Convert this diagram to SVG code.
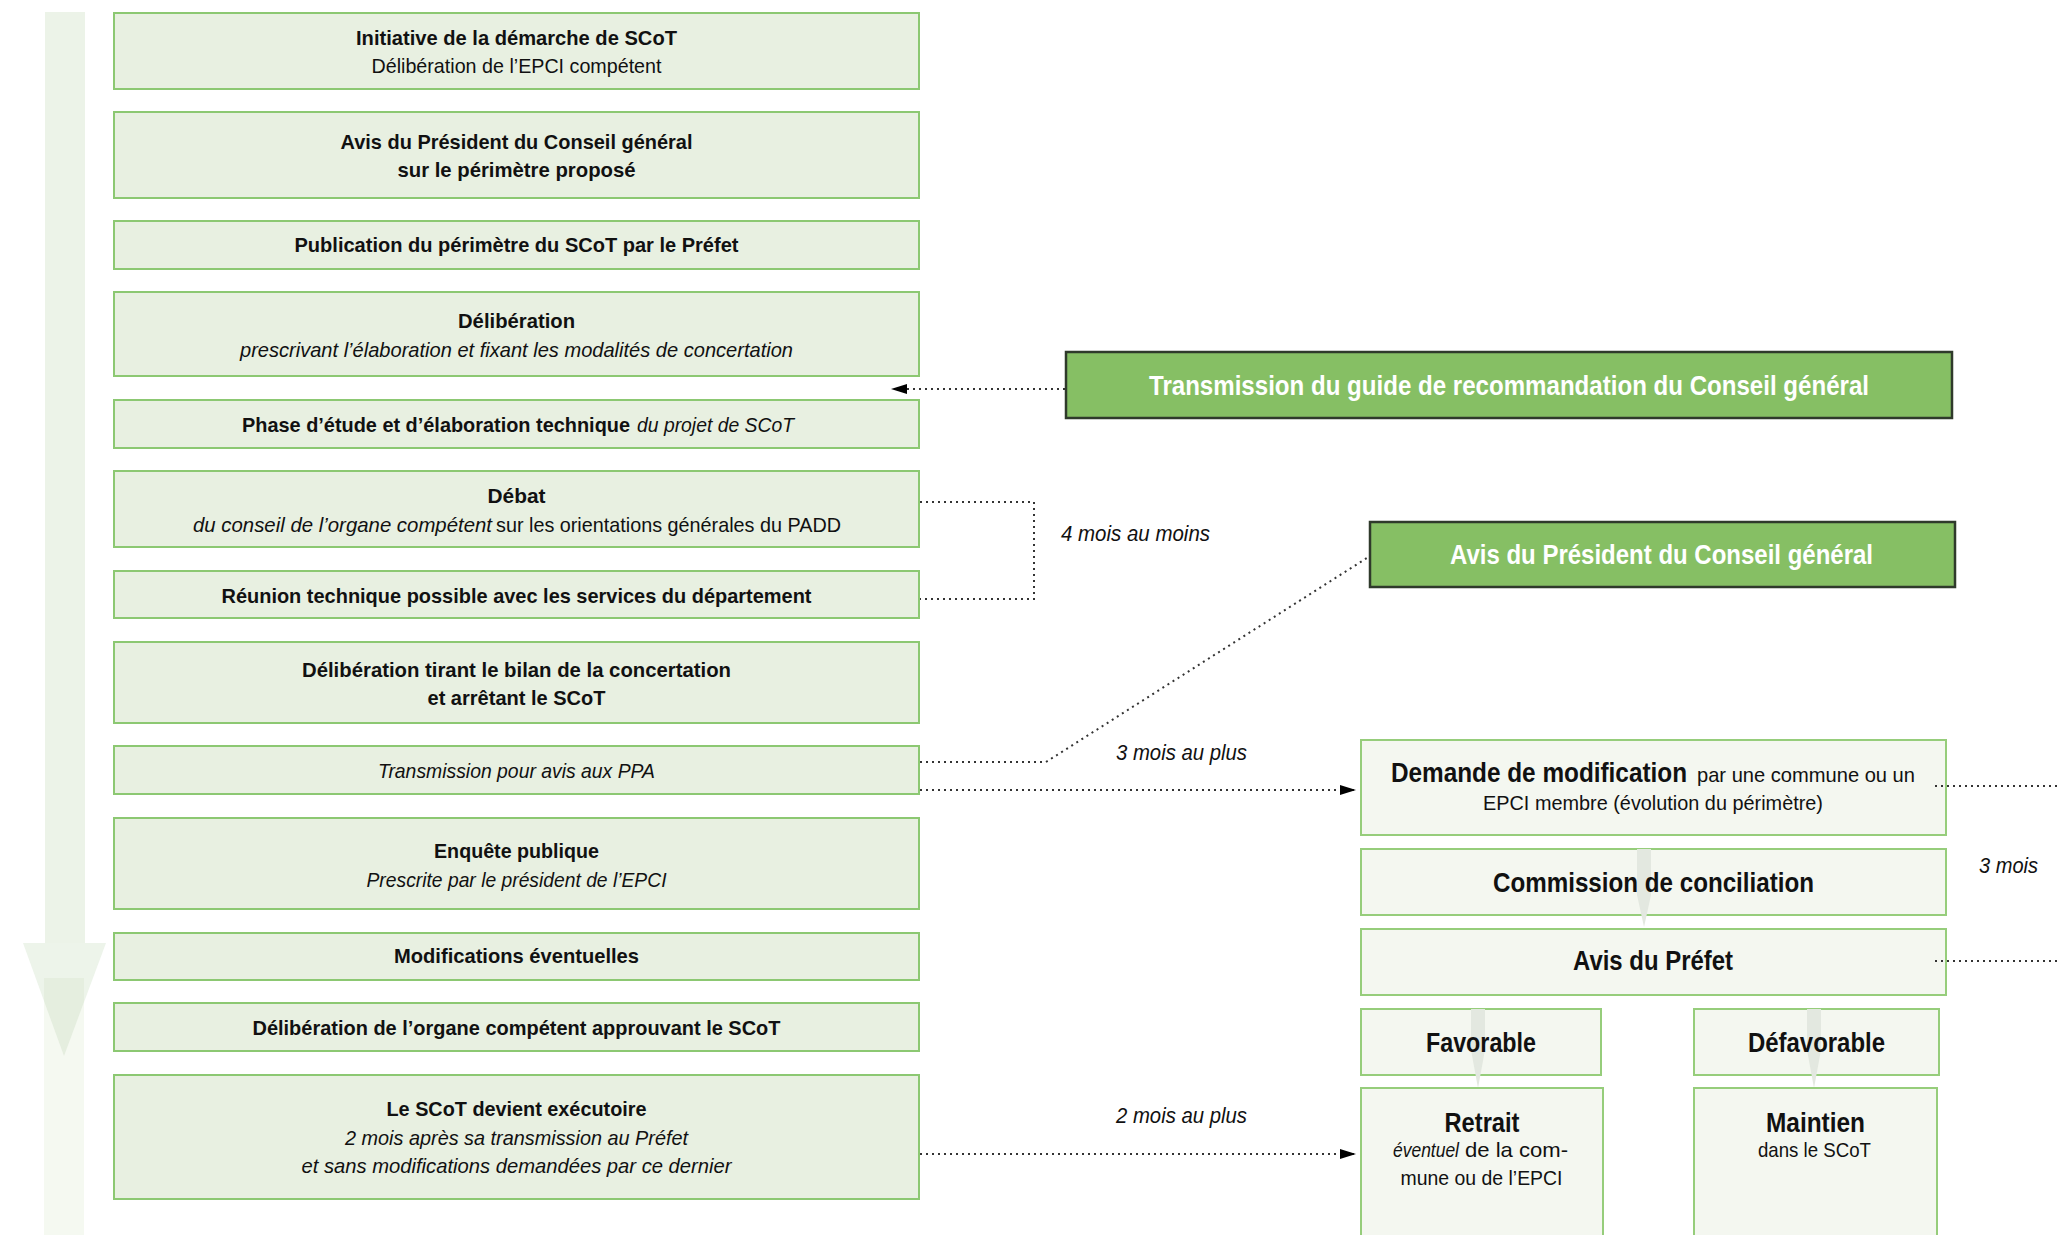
<svg xmlns="http://www.w3.org/2000/svg" width="2058" height="1235" viewBox="0 0 2058 1235">
<defs>
<style>
text{font-family:"Liberation Sans",Arial,sans-serif;fill:#111;text-anchor:middle}
.s{text-anchor:start}
.b{font-weight:bold}
.i{font-style:italic}
.t{font-size:21px}
.h{font-size:27px;font-weight:bold}
.w{fill:#fff}
.lab{font-size:22px;font-style:italic;text-anchor:start}
.box{fill:#e8f0e1;stroke:#8cc872;stroke-width:2}
.rbox{fill:#f4f7f0;stroke:#96cd7b;stroke-width:2}
.gbox{fill:#86bf64;stroke:#2f3a2b;stroke-width:2.5}
.dot{fill:none;stroke:#333;stroke-width:2;stroke-dasharray:2 4}
.garr{fill:#e3e8e0}
</style>
<marker id="ah" viewBox="0 0 16 10" refX="16" refY="5" markerWidth="16" markerHeight="10" markerUnits="userSpaceOnUse" orient="auto">
<path d="M0,0 L16,5 L0,10 z" fill="#000"/>
</marker>
</defs>
<rect width="2058" height="1235" fill="#fff"/>

<g id="timeline">
<rect x="45" y="12" width="40" height="931" fill="#ecf3e8"/>
<polygon points="23,943 106,943 64,1056" fill="#edf4ea"/>
<rect x="44" y="978" width="40" height="257" fill="#f5f9f1"/>
<polygon points="44,978 84,978 84,1002 64,1056 44,1001" fill="#e5eedf"/>
</g>

<g id="n1"><rect class="box" x="114" y="13" width="805" height="76"/>
<text class="t b" x="516.5" y="45" textLength="321" lengthAdjust="spacingAndGlyphs">Initiative de la démarche de SCoT</text>
<text class="t" x="516.5" y="73" textLength="290" lengthAdjust="spacingAndGlyphs">Délibération de l’EPCI compétent</text></g>

<g id="n2"><rect class="box" x="114" y="112" width="805" height="86"/>
<text class="t b" x="516.5" y="149" textLength="352" lengthAdjust="spacingAndGlyphs">Avis du Président du Conseil général</text>
<text class="t b" x="516.5" y="177" textLength="238" lengthAdjust="spacingAndGlyphs">sur le périmètre proposé</text></g>

<g id="n3"><rect class="box" x="114" y="221" width="805" height="48"/>
<text class="t b" x="516.5" y="252" textLength="444" lengthAdjust="spacingAndGlyphs">Publication du périmètre du SCoT par le Préfet</text></g>

<g id="n4"><rect class="box" x="114" y="292" width="805" height="84"/>
<text class="t b" x="516.5" y="328" textLength="117" lengthAdjust="spacingAndGlyphs">Délibération</text>
<text class="t i" x="516.5" y="357" textLength="553" lengthAdjust="spacingAndGlyphs">prescrivant l’élaboration et fixant les modalités de concertation</text></g>

<g id="n5"><rect class="box" x="114" y="400" width="805" height="48"/>
<text class="t b s" x="242" y="432" textLength="388" lengthAdjust="spacingAndGlyphs">Phase d’étude et d’élaboration technique</text>
<text class="t i s" x="637" y="432" textLength="157" lengthAdjust="spacingAndGlyphs">du projet de SCoT</text></g>

<g id="n6"><rect class="box" x="114" y="471" width="805" height="76"/>
<text class="t b" x="516.5" y="503" textLength="58" lengthAdjust="spacingAndGlyphs">Débat</text>
<text class="t i s" x="193" y="532" textLength="299" lengthAdjust="spacingAndGlyphs">du conseil de l’organe compétent</text>
<text class="t s" x="496" y="532" textLength="345" lengthAdjust="spacingAndGlyphs">sur les orientations générales du PADD</text></g>

<g id="n7"><rect class="box" x="114" y="571" width="805" height="47"/>
<text class="t b" x="516.5" y="603" textLength="590" lengthAdjust="spacingAndGlyphs">Réunion technique possible avec les services du département</text></g>

<g id="n8"><rect class="box" x="114" y="642" width="805" height="81"/>
<text class="t b" x="516.5" y="677" textLength="429" lengthAdjust="spacingAndGlyphs">Délibération tirant le bilan de la concertation</text>
<text class="t b" x="516.5" y="705" textLength="178" lengthAdjust="spacingAndGlyphs">et arrêtant le SCoT</text></g>

<g id="n9"><rect class="box" x="114" y="746" width="805" height="48"/>
<text class="t i" x="516.5" y="778" textLength="277" lengthAdjust="spacingAndGlyphs">Transmission pour avis aux PPA</text></g>

<g id="n10"><rect class="box" x="114" y="818" width="805" height="91"/>
<text class="t b" x="516.5" y="858" textLength="165" lengthAdjust="spacingAndGlyphs">Enquête publique</text>
<text class="t i" x="516.5" y="887" textLength="300" lengthAdjust="spacingAndGlyphs">Prescrite par le président de l’EPCI</text></g>

<g id="n11"><rect class="box" x="114" y="933" width="805" height="47"/>
<text class="t b" x="516.5" y="963" textLength="245" lengthAdjust="spacingAndGlyphs">Modifications éventuelles</text></g>

<g id="n12"><rect class="box" x="114" y="1003" width="805" height="48"/>
<text class="t b" x="516.5" y="1035" textLength="528" lengthAdjust="spacingAndGlyphs">Délibération de l’organe compétent approuvant le SCoT</text></g>

<g id="n13"><rect class="box" x="114" y="1075" width="805" height="124"/>
<text class="t b" x="516.5" y="1116" textLength="260" lengthAdjust="spacingAndGlyphs">Le SCoT devient exécutoire</text>
<text class="t i" x="516.5" y="1145" textLength="343" lengthAdjust="spacingAndGlyphs">2 mois après sa transmission au Préfet</text>
<text class="t i" x="516.5" y="1173" textLength="430" lengthAdjust="spacingAndGlyphs">et sans modifications demandées par ce dernier</text></g>

<g id="g1"><rect class="gbox" x="1066" y="352" width="886" height="66"/>
<text class="h w" x="1509" y="395" textLength="720" lengthAdjust="spacingAndGlyphs">Transmission du guide de recommandation du Conseil général</text></g>

<g id="g2"><rect class="gbox" x="1370" y="522" width="585" height="65"/>
<text class="h w" x="1661.5" y="564" textLength="423" lengthAdjust="spacingAndGlyphs">Avis du Président du Conseil général</text></g>

<g id="r1"><rect class="rbox" x="1361" y="740" width="585" height="95"/>
<text class="h s" x="1391" y="782" textLength="296" lengthAdjust="spacingAndGlyphs">Demande de modification</text>
<text class="t s" x="1697" y="782" textLength="218" lengthAdjust="spacingAndGlyphs">par une commune ou un</text>
<text class="t" x="1653" y="810" textLength="340" lengthAdjust="spacingAndGlyphs">EPCI membre (évolution du périmètre)</text></g>

<g id="r2"><rect class="rbox" x="1361" y="849" width="585" height="66"/>
<polygon class="garr" points="1637,849 1651,849 1651,895 1644,927 1637,895"/>
<text class="h" x="1653.5" y="892" textLength="321" lengthAdjust="spacingAndGlyphs">Commission de conciliation</text></g>

<g id="r3"><rect class="rbox" x="1361" y="929" width="585" height="66"/>
<text class="h" x="1653" y="970" textLength="160" lengthAdjust="spacingAndGlyphs">Avis du Préfet</text></g>

<g id="r4"><rect class="rbox" x="1361" y="1009" width="240" height="66"/>
<polygon class="garr" points="1471,1009 1485,1009 1485,1050 1478,1088 1471,1050"/>
<text class="h" x="1481" y="1052" textLength="110" lengthAdjust="spacingAndGlyphs">Favorable</text></g>

<g id="r5"><rect class="rbox" x="1694" y="1009" width="245" height="66"/>
<polygon class="garr" points="1807,1009 1821,1009 1821,1050 1814,1088 1807,1050"/>
<text class="h" x="1816.5" y="1052" textLength="137" lengthAdjust="spacingAndGlyphs">Défavorable</text></g>

<g id="r6"><rect class="rbox" x="1361" y="1088" width="242" height="160"/>
<text class="h" x="1482" y="1132" textLength="75" lengthAdjust="spacingAndGlyphs">Retrait</text>
<text class="t i s" x="1393" y="1157" textLength="66" lengthAdjust="spacingAndGlyphs">éventuel</text>
<text class="t s" x="1465" y="1157" textLength="103" lengthAdjust="spacingAndGlyphs">de la com-</text>
<text class="t" x="1481.5" y="1185" textLength="162" lengthAdjust="spacingAndGlyphs">mune ou de l’EPCI</text></g>

<g id="r7"><rect class="rbox" x="1694" y="1088" width="243" height="160"/>
<text class="h" x="1815.5" y="1132" textLength="99" lengthAdjust="spacingAndGlyphs">Maintien</text>
<text class="t" x="1814.5" y="1157" textLength="113" lengthAdjust="spacingAndGlyphs">dans le SCoT</text></g>

<g id="connectors">
<line class="dot" x1="1065" y1="389" x2="891" y2="389" marker-end="url(#ah)"/>
<polyline class="dot" points="920,502 1034,502 1034,599 920,599"/>
<polyline class="dot" points="920,762 1046,762 1370,556"/>
<line class="dot" x1="920" y1="790" x2="1356" y2="790" marker-end="url(#ah)"/>
<line class="dot" x1="920" y1="1154" x2="1356" y2="1154" marker-end="url(#ah)"/>
<line class="dot" x1="1935" y1="786" x2="2058" y2="786"/>
<line class="dot" x1="1935" y1="961" x2="2058" y2="961"/>
</g>

<g id="labels">
<text class="lab" x="1061" y="541" textLength="149" lengthAdjust="spacingAndGlyphs">4 mois au moins</text>
<text class="lab" x="1116" y="760" textLength="131" lengthAdjust="spacingAndGlyphs">3 mois au plus</text>
<text class="lab" x="1116" y="1123" textLength="131" lengthAdjust="spacingAndGlyphs">2 mois au plus</text>
<text class="lab" x="1979" y="873" textLength="59" lengthAdjust="spacingAndGlyphs">3 mois</text>
</g>
</svg>
